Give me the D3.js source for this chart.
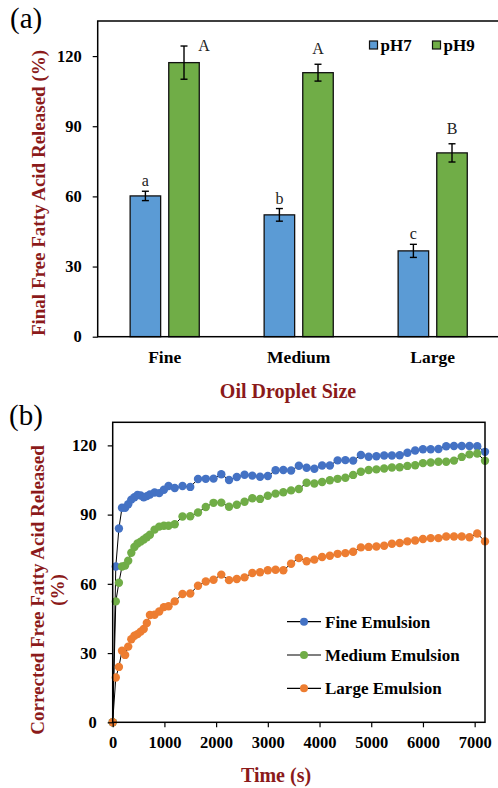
<!DOCTYPE html>
<html><head><meta charset="utf-8">
<script src="https://cdn.jsdelivr.net/npm/d3@7"></script>
<style>body{margin:0;background:#fff} svg{display:block}</style>
</head><body>
<svg id="c" width="498" height="788"></svg>
<script>
// ---------- Panel (a) data ----------
const categories = ["Fine", "Medium", "Large"];
const seriesA = ["pH7", "pH9"];
const ph7 = [60.2, 52.1, 36.7];
const ph7Err = [2.0, 2.7, 2.8];
const ph9 = [117.2, 112.9, 78.6];
const ph9Err = [7.1, 3.6, 3.9];
const ph7Letters = ["a", "b", "c"];
const ph9Letters = ["A", "A", "B"];
const yTicksA = [0, 30, 60, 90, 120];

// ---------- Panel (b) data ----------
const times = [0, 60, 120, 180, 240, 300, 360, 420, 480, 540, 600, 660, 720, 810, 900, 990, 1080,
  1200, 1350, 1500, 1650, 1800, 1950, 2100, 2250, 2400, 2550, 2700, 2850, 3000, 3150, 3300, 3450,
  3600, 3750, 3900, 4050, 4200, 4350, 4500, 4650, 4800, 4950, 5100, 5250, 5400, 5550, 5700, 5850,
  6000, 6150, 6300, 6450, 6600, 6750, 6900, 7050, 7200];
const fineEmulsion = [0, 67.5, 84, 93, 93, 94.5, 96.5, 97.5, 98.5, 98.3, 97.5, 98, 98.7, 99.6, 99.3, 100.8, 102.4,
  101.5, 102.4, 102, 105.4, 105.5, 105.6, 107.5, 105, 106.3, 107.3, 106.9, 106.4, 106.7, 109.2, 109.3, 109.1,
  111.2, 110.3, 109.9, 111.3, 111.3, 113.5, 113.6, 113.4, 115.8, 115.1, 115.3, 115.6, 115.6, 115.7, 116.8, 117.8,
  118.3, 118.3, 118.4, 119.6, 119.7, 119.7, 119.7, 119.6, 117.2];
const mediumEmulsion = [0, 52.4, 60.5, 67.5, 67.9, 70, 73.5, 76, 77.5, 78.3, 79.2, 80.2, 81.3, 83.5, 84.8, 85.2, 85.2,
  85.8, 89.2, 89.3, 90.9, 93.3, 95.1, 95.2, 93.4, 94.3, 95.6, 97.1, 96.8, 98.2, 99.1, 99.7, 100.5,
  101.1, 103.8, 103.5, 104.1, 104.9, 105.5, 106, 107.2, 108.6, 109.3, 109.6, 110, 110.4, 110.5, 111.1, 111.4,
  112.3, 112.6, 112.9, 112.9, 113.4, 115, 116.1, 116.5, 113.3];
const largeEmulsion = [0, 19.4, 24, 31, 29.2, 32.8, 36, 37.5, 38.2, 39.3, 40.4, 43, 46.5, 46.6, 48, 49.9, 50.3,
  52.4, 55.6, 55.8, 59.2, 61, 61.8, 64, 61.6, 62.1, 62.8, 64.7, 65, 65.9, 66.1, 65.9, 68.7,
  71.2, 69.8, 70.5, 71.6, 72.2, 73, 73.3, 73.9, 75.8, 76, 76.2, 76.5, 77.4, 77.7, 78.4, 78.8,
  79.4, 79.8, 79.8, 80.5, 80.5, 80.5, 80.2, 81.8, 78.4];
const seriesB = ["Fine Emulsion", "Medium Emulsion", "Large Emulsion"];
const xTicksB = [0, 1000, 2000, 3000, 4000, 5000, 6000, 7000];
const yTicksB = [0, 30, 60, 90, 120];

// ---------- styles ----------
const FONT = "'Liberation Serif','Times New Roman',serif";
const RED = "#8B1A1A";
const barColors = ["#5B9BD5", "#70AD47"];
const lineColors = ["#4472C4", "#70AD47", "#ED7D31"];

const svg = d3.select("#c");

function styleAxis(g) {
  g.select(".domain").remove();
  g.selectAll(".tick line").attr("stroke", "#000").attr("stroke-width", 1.2);
  g.selectAll(".tick text").attr("font-family", FONT).attr("font-weight", "bold")
    .attr("font-size", 16.5).attr("fill", "#000");
}

// ================= Panel (a) =================
const ax0 = d3.scaleBand().domain(categories).range([97.7, 499.7]);
const ax1 = d3.scaleBand().domain(seriesA).range([0, ax0.bandwidth()]).paddingInner(0.21).paddingOuter(0.84);
const ay = d3.scaleLinear().domain([0, 135]).range([336.7, 21]);

svg.append("text").attr("x", 10).attr("y", 28).attr("font-family", FONT).attr("font-size", 29).text("(a)");

const gA = svg.append("g");
const barData = categories.map((c, i) => [
  { cat: c, s: "pH7", v: ph7[i], e: ph7Err[i], lab: ph7Letters[i], col: barColors[0] },
  { cat: c, s: "pH9", v: ph9[i], e: ph9Err[i], lab: ph9Letters[i], col: barColors[1] }
]).flat();

gA.selectAll("rect.bar").data(barData).join("rect").attr("class", "bar")
  .attr("x", d => ax0(d.cat) + ax1(d.s))
  .attr("y", d => ay(d.v))
  .attr("width", ax1.bandwidth())
  .attr("height", d => ay(0) - ay(d.v))
  .attr("fill", d => d.col).attr("stroke", "#111").attr("stroke-width", 1.3);

// error bars
const eb = gA.selectAll("g.eb").data(barData).join("g").attr("class", "eb")
  .attr("transform", d => `translate(${ax0(d.cat) + ax1(d.s) + ax1.bandwidth() / 2},0)`);
eb.append("line").attr("x1", 0).attr("x2", 0).attr("y1", d => ay(d.v - d.e)).attr("y2", d => ay(d.v + d.e))
  .attr("stroke", "#000").attr("stroke-width", 1.4);
eb.append("line").attr("x1", -3.5).attr("x2", 3.5).attr("y1", d => ay(d.v - d.e)).attr("y2", d => ay(d.v - d.e))
  .attr("stroke", "#000").attr("stroke-width", 1.4);
eb.append("line").attr("x1", -3.5).attr("x2", 3.5).attr("y1", d => ay(d.v + d.e)).attr("y2", d => ay(d.v + d.e))
  .attr("stroke", "#000").attr("stroke-width", 1.4);
// significance letters (moved beside the bar when there is no room above)
eb.append("text")
  .attr("font-family", FONT).attr("font-size", 16).attr("fill", "#222")
  .attr("text-anchor", "middle")
  .each(function (d) {
    const top = ay(d.v + d.e);
    const upper = d.lab === d.lab.toUpperCase();
    let x = 0, y = top - (upper ? 10 : 5);
    if (y < ay.range()[1] + 20) { x = 20; y = top + 5; }
    d3.select(this).attr("x", x).attr("y", y);
  })
  .text(d => d.lab);

// frame
gA.append("rect").attr("x", 97.7).attr("y", 21).attr("width", 402).attr("height", ay(0) - 21)
  .attr("fill", "none").attr("stroke", "#000").attr("stroke-width", 1.5);

const gya = svg.append("g").attr("transform", "translate(97.7,0)")
  .call(d3.axisLeft(ay).tickValues(yTicksA).tickSize(5).tickPadding(11));
styleAxis(gya);

// category labels
svg.selectAll("text.cat").data(categories).join("text").attr("class", "cat")
  .attr("x", d => ax0(d) + ax0.bandwidth() / 2).attr("y", 363)
  .attr("text-anchor", "middle").attr("font-family", FONT).attr("font-weight", "bold")
  .attr("font-size", 17.5).text(d => d);

svg.append("text").attr("x", 288).attr("y", 398).attr("text-anchor", "middle")
  .attr("font-family", FONT).attr("font-weight", "bold").attr("font-size", 20).attr("fill", RED)
  .text("Oil Droplet Size");
svg.append("text").attr("transform", "translate(45,193) rotate(-90)").attr("text-anchor", "middle")
  .attr("font-family", FONT).attr("font-weight", "bold").attr("font-size", 19).attr("fill", RED)
  .text("Final Free Fatty Acid Released (%)");

// legend a
const legA = svg.selectAll("g.lega").data(seriesA).join("g").attr("class", "lega")
  .attr("transform", (d, i) => `translate(369.5,41) translate(${i * 63},0)`);
legA.append("rect").attr("width", 8).attr("height", 8).attr("fill", (d, i) => barColors[i])
  .attr("stroke", "#111").attr("stroke-width", 1.2);
legA.append("text").attr("x", 11).attr("y", 9.5).attr("font-family", FONT).attr("font-weight", "bold")
  .attr("font-size", 17).text(d => d);

// ================= Panel (b) =================
const bx = d3.scaleLinear().domain([0, 7200]).range([112.7, 485]);
const by = d3.scaleLinear().domain([0, 130]).range([722.3, 422.3]);

svg.append("text").attr("x", 9).attr("y", 425).attr("font-family", FONT).attr("font-size", 29).text("(b)");

const gB = svg.append("g");
const seriesVals = [fineEmulsion, mediumEmulsion, largeEmulsion];
const lineGen = d3.line().x(d => bx(d[0])).y(d => by(d[1]));
seriesVals.forEach((vals, si) => {
  const pts = times.map((t, i) => [t, vals[i]]);
  gB.append("path").attr("d", lineGen(pts)).attr("fill", "none").attr("stroke", "#000").attr("stroke-width", 1);
  gB.selectAll(null).data(pts).join("circle")
    .attr("cx", d => bx(d[0])).attr("cy", d => by(d[1])).attr("r", 4.2)
    .attr("fill", lineColors[si]);
});

gB.append("rect").attr("x", 112.7).attr("y", 422.3).attr("width", 485 - 112.7).attr("height", 722.3 - 422.3)
  .attr("fill", "none").attr("stroke", "#000").attr("stroke-width", 1.5);

const gyb = svg.append("g").attr("transform", "translate(112.7,0)")
  .call(d3.axisLeft(by).tickValues(yTicksB).tickSize(5).tickPadding(11));
styleAxis(gyb);
const gxb = svg.append("g").attr("transform", "translate(0,722.3)")
  .call(d3.axisBottom(bx).tickValues(xTicksB).tickFormat(d3.format("d")).tickSize(5).tickPadding(9));
styleAxis(gxb);

svg.append("text").attr("x", 276).attr("y", 782).attr("text-anchor", "middle")
  .attr("font-family", FONT).attr("font-weight", "bold").attr("font-size", 20).attr("fill", RED)
  .text("Time (s)");
const yTitleB = svg.append("text").attr("transform", "translate(44,590) rotate(-90)").attr("text-anchor", "middle")
  .attr("font-family", FONT).attr("font-weight", "bold").attr("font-size", 19).attr("fill", RED);
yTitleB.append("tspan").attr("x", 0).attr("dy", 0).text("Corrected Free Fatty Acid Released");
yTitleB.append("tspan").attr("x", 0).attr("dy", 20).text("(%)");

// legend b
const legB = svg.selectAll("g.legb").data(seriesB).join("g").attr("class", "legb")
  .attr("transform", (d, i) => `translate(287,621.7) translate(0,${i * 33.3})`);
legB.append("line").attr("x1", 0).attr("x2", 34).attr("y1", 0).attr("y2", 0).attr("stroke", "#000").attr("stroke-width", 1.2);
legB.append("circle").attr("cx", 17).attr("cy", 0).attr("r", 4).attr("fill", (d, i) => lineColors[i]);
legB.append("text").attr("x", 38).attr("y", 6).attr("font-family", FONT).attr("font-weight", "bold")
  .attr("font-size", 17).text(d => d);
</script>
</body></html>
